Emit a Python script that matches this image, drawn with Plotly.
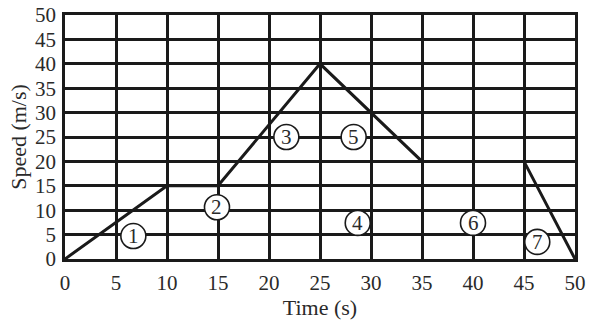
import plotly.graph_objects as go

# Data
time_s = [0, 10, 15, 25, 35, 45, 50]
speed_ms = [0, 15, 15, 40, 20, 20, 0]
tick_vals = [0, 5, 10, 15, 20, 25, 30, 35, 40, 45, 50]
tick_text = [str(v) for v in tick_vals]
label_text = ["1", "2", "3", "4", "5", "6", "7"]
label_x = [6.7, 14.9, 21.7, 28.7, 28.3, 40.0, 46.3]
label_y = [4.7, 10.6, 25.0, 7.4, 25.0, 7.4, 3.5]

FONT = "Times New Roman"
INK = "#1a1a1a"
TXT = "#2a2a2a"

fig = go.Figure()
fig.add_trace(go.Scatter(x=time_s, y=speed_ms, mode="lines",
                         line=dict(color=INK, width=3), hoverinfo="skip",
                         showlegend=False, cliponaxis=False))

shapes = []
annotations = []
for t, lx, ly in zip(label_text, label_x, label_y):
    shapes.append(dict(type="circle", xref="x", yref="y", xsizemode="pixel", ysizemode="pixel",
                       xanchor=lx, yanchor=ly, x0=-12.5, x1=12.5, y0=-12.5, y1=12.5,
                       line=dict(color=INK, width=1.6), fillcolor="white", layer="above"))
    annotations.append(dict(x=lx, y=ly, xref="x", yref="y", text=t, showarrow=False,
                            font=dict(family=FONT, size=21, color=TXT), yshift=0))

axis_common = dict(range=[0, 50], tickvals=tick_vals, ticktext=tick_text,
                   showgrid=True, gridcolor=INK, gridwidth=2.5, zeroline=False,
                   showline=True, linecolor=INK, linewidth=2.5, mirror=True,
                   automargin=False,
                   ticks="", tickfont=dict(family=FONT, size=21, color=TXT))

fig.update_layout(
    width=593, height=322,
    margin=dict(l=65, r=18, t=15, b=63),
    paper_bgcolor="white", plot_bgcolor="white",
    xaxis=dict(**axis_common, ticklabelstandoff=3,
               title=dict(text="Time (s)", font=dict(family=FONT, size=22, color=TXT), standoff=2)),
    yaxis=dict(**axis_common, ticklabelstandoff=2,
               title=dict(text="Speed (m/s)", font=dict(family=FONT, size=22, color=TXT), standoff=3)),
    shapes=shapes, annotations=annotations,
)

fig.write_html("out.html")
